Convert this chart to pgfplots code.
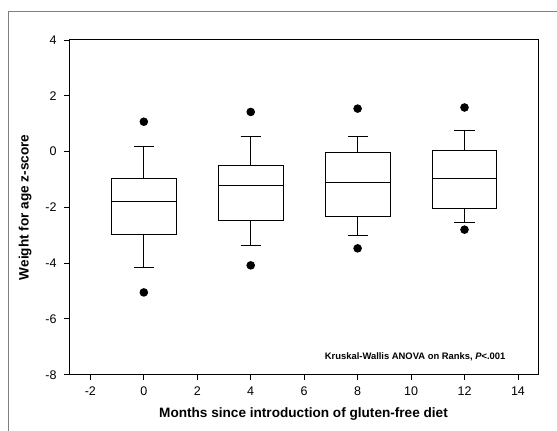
\documentclass[border=0pt]{standalone}
\usepackage{fontspec}
\setmainfont{Liberation Sans}
\usepackage{pgfplots}
\pgfplotsset{compat=1.18}
\usepgfplotslibrary{statistics}

\begin{document}
\begin{tikzpicture}
\path[use as bounding box] (0,0) rectangle (557pt,431pt);
% frame of the figure panel (only left and top edges are visible)
\draw[line width=1pt, black!50] (8pt,0) -- (8pt,419pt) -- (557pt,419pt);
\begin{axis}[
  at={(69pt,56.3pt)}, anchor=south west,
  scale only axis, width=469pt, height=334.7pt,
  xmin=-2.8, xmax=14.75, ymin=-8, ymax=4,
  xtick={-2,0,...,14}, ytick={-8,-6,...,4},
  tick pos=left, tick align=outside, major tick length=5pt,
  axis line style={line width=1pt}, tick style={line width=0.9pt, black},
  xlabel={Months since introduction of gluten-free diet},
  ylabel={Weight for age z-score},
  label style={font=\fontsize{13.6}{15}\selectfont\bfseries},
  xlabel style={yshift=-5pt},
  ylabel style={yshift=7pt},
  tick label style={font=\fontsize{12.5}{14}\selectfont},
  xticklabel style={yshift=-4pt},
  yticklabel style={xshift=-4pt},
  /pgf/number format/assume math mode=true,
  boxplot/draw direction=y,
  every boxplot/.style={black, solid, line width=0.9pt},
  clip=false,
]
\addplot[black, line width=0.9pt, mark=*, mark size=3.8pt, mark options={fill=black},
  boxplot prepared={draw position=0, lower whisker=-4.14, lower quartile=-2.96,
    median=-1.79, upper quartile=-0.97, upper whisker=0.18,
    box extend=2.42, whisker extend=0.75}]
  table[row sep=\\, y index=0] {1.07\\ -5.05\\};
\addplot[black, line width=0.9pt, mark=*, mark size=3.8pt, mark options={fill=black},
  boxplot prepared={draw position=4, lower whisker=-3.35, lower quartile=-2.48,
    median=-1.23, upper quartile=-0.49, upper whisker=0.54,
    box extend=2.42, whisker extend=0.75}]
  table[row sep=\\, y index=0] {1.42\\ -4.08\\};
\addplot[black, line width=0.9pt, mark=*, mark size=3.8pt, mark options={fill=black},
  boxplot prepared={draw position=8, lower whisker=-3.00, lower quartile=-2.33,
    median=-1.11, upper quartile=-0.04, upper whisker=0.55,
    box extend=2.42, whisker extend=0.75}]
  table[row sep=\\, y index=0] {1.54\\ -3.47\\};
\addplot[black, line width=0.9pt, mark=*, mark size=3.8pt, mark options={fill=black},
  boxplot prepared={draw position=12, lower whisker=-2.53, lower quartile=-2.03,
    median=-0.97, upper quartile=0.05, upper whisker=0.75,
    box extend=2.42, whisker extend=0.75}]
  table[row sep=\\, y index=0] {1.58\\ -2.80\\};
\node[anchor=east, font=\fontsize{9.4}{11}\selectfont\bfseries]
  at (rel axis cs:0.938,0.053) {Kruskal-Wallis ANOVA on Ranks, \textit{P}<.001};
\end{axis}
\end{tikzpicture}
\end{document}
